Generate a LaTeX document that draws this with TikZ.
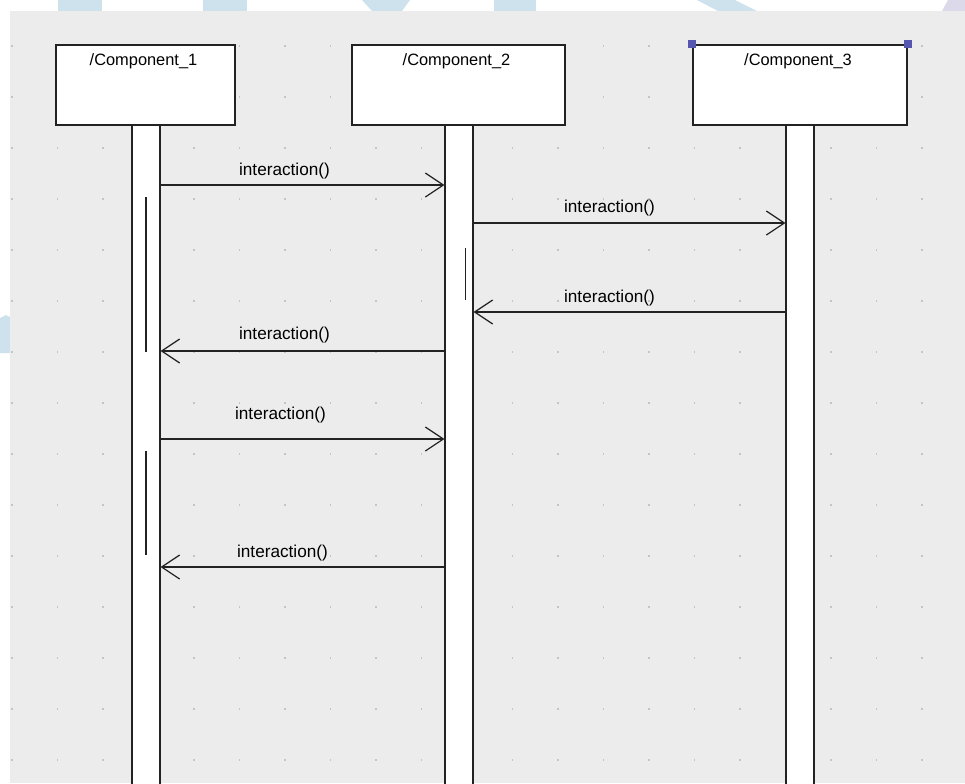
\documentclass[tikz,border=0pt]{standalone}
\usepackage{fontspec}
\setmainfont{Liberation Sans}
\usetikzlibrary{arrows.meta,calc,shadows}
\definecolor{canvas}{HTML}{ECECEC}
\definecolor{ink}{HTML}{222222}
\definecolor{griddot}{HTML}{C4C4C4}
\definecolor{wmark}{HTML}{CDE2EC}
\definecolor{wlilac}{HTML}{DCD9EA}
\definecolor{handle}{HTML}{5656B0}

\begin{document}
\begin{tikzpicture}[x=0.5pt, y=-0.5pt,
compbox/.style={draw=ink, fill=white, line width=0.8pt, inner sep=0pt,
  minimum width=#1, minimum height=40pt,
  drop shadow={shadow xshift=0.7pt, shadow yshift=-0.7pt, fill=black!45, opacity=0.6}},
comptitle/.style={anchor=base, inner sep=0pt, font=\fontsize{8.2}{10}\selectfont},
lifebar/.style={draw=ink, fill=white, line width=0.6pt, inner sep=0pt,
  minimum width=14pt, minimum height=335pt},
activation/.style={draw=ink, line width=0.6pt},
msg/.style={draw=ink, line width=0.6pt, -{Straight Barb[length=9pt, width=12pt]}},
msglabel/.style={anchor=base, inner sep=0pt, xshift=-9pt, yshift=5pt,
  font=\fontsize{8.6}{10}\selectfont}]

\useasboundingbox (0,0) rectangle (965,783);
\clip (0,0) rectangle (965,783);

\fill[white] (0,0) rectangle (965,783);
\fill[wmark] (58,0) rectangle (102,11);
\fill[wmark] (203,0) rectangle (247,11);
\fill[wmark] (362,0) -- (410,0) -- (402,11) -- (372,11) -- cycle;
\fill[wmark] (494,0) rectangle (536,11);
\fill[wmark] (697,0) -- (735,0) -- (757,11) -- (718,11) -- cycle;
\fill[wlilac] (948,0) -- (965,0) -- (965,11) -- (942,11) -- cycle;
\fill[wmark] (0,318) -- (6,315) -- (10,317) -- (10,353) -- (0,353) -- cycle;

\fill[canvas] (10,11) rectangle (965,783);
\foreach \gx in {0,...,20}
  \foreach \gy in {0,...,14}
    \fill[griddot] ({12+45.5*\gx-0.6},{46+51*\gy-1}) rectangle +(1.2,2);

\node[lifebar] (life1) at (146,460) {};
\node[lifebar] (life2) at (459,460) {};
\node[lifebar] (life3) at (800,460) {};

\node[compbox=89.5pt] (comp1) at (145.5,85) {};
\node[compbox=106.5pt] (comp2) at (458.5,85) {};
\node[compbox=107pt] (comp3) at (800,85) {};

\node[comptitle] at ($(comp1.north)+(-2,21)$) {/Component\_1};
\node[comptitle] at ($(comp2.north)+(-2,21)$) {/Component\_2};
\node[comptitle] at ($(comp3.north)+(-2,21)$) {/Component\_3};

\fill[handle] ($(comp3.north west)+(-4,-4)$) rectangle +(8,8);
\fill[handle] ($(comp3.north east)+(-4,-4)$) rectangle +(8,8);

\draw[activation] (146,197) -- (146,352);
\draw[activation] (465.5,248) -- (465.5,300);
\draw[activation] (146,451) -- (146,555);

\draw[msg] (life1.east |- 0,185) -- node[msglabel] {interaction()} (life2.west |- 0,185);
\draw[msg] (life2.east |- 0,223) -- node[msglabel, xshift=-1pt, yshift=0.5pt] {interaction()} (life3.west |- 0,223);
\draw[msg] (life3.west |- 0,312) -- node[msglabel, xshift=-1pt] {interaction()} (life2.east |- 0,312);
\draw[msg] (life2.west |- 0,351) -- node[msglabel, yshift=1pt] {interaction()} (life1.east |- 0,351);
\draw[msg] (life1.east |- 0,439) -- node[msglabel, xshift=-2pt, yshift=5pt] {interaction()} (life2.west |- 0,439);
\draw[msg] (life2.west |- 0,567) -- node[msglabel, xshift=-1pt] {interaction()} (life1.east |- 0,567);
\end{tikzpicture}
\end{document}
